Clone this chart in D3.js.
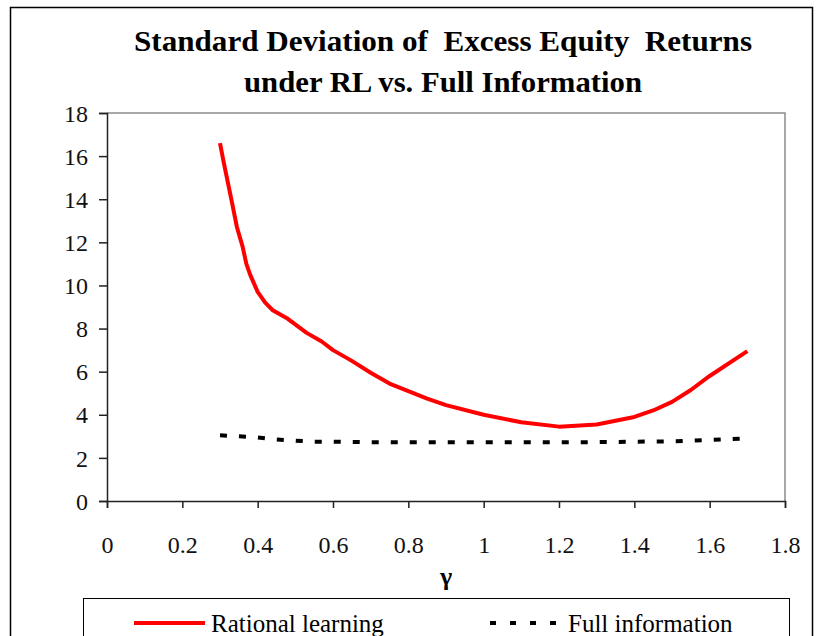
<!DOCTYPE html>
<html>
<head>
<meta charset="utf-8">
<script src="https://cdn.jsdelivr.net/npm/d3@7"></script>
<style>
  body { margin: 0; background: #fff; }
  svg text { font-family: "Liberation Serif", "Times New Roman", "DejaVu Serif", serif; }
</style>
</head>
<body>
<div id="chart-area"></div>
<script>
// data
const gammaRL = [0.30, 0.31, 0.33, 0.345, 0.36, 0.37, 0.38, 0.40, 0.42, 0.44, 0.48, 0.53, 0.57, 0.60, 0.65, 0.70, 0.75, 0.85, 0.90, 1.00, 1.10, 1.20, 1.30, 1.40, 1.45, 1.50, 1.55, 1.60, 1.70]
const rationalLearning = [16.6, 15.7, 14.0, 12.7, 11.8, 11.0, 10.5, 9.7, 9.2, 8.85, 8.45, 7.8, 7.4, 7.0, 6.5, 5.95, 5.45, 4.75, 4.45, 4.0, 3.65, 3.45, 3.55, 3.9, 4.2, 4.6, 5.15, 5.8, 6.95]

const gammaFI = [0.30, 0.35, 0.40, 0.45, 0.50, 0.55, 0.60, 0.70, 0.80, 0.90, 1.00, 1.10, 1.20, 1.30, 1.40, 1.50, 1.60, 1.70]
const fullInformation = [3.05, 3.0, 2.95, 2.85, 2.8, 2.75, 2.75, 2.73, 2.72, 2.72, 2.72, 2.72, 2.72, 2.73, 2.75, 2.77, 2.83, 2.9]

const xTicks = [0, 0.2, 0.4, 0.6, 0.8, 1, 1.2, 1.4, 1.6, 1.8]
const yTicks = [0, 2, 4, 6, 8, 10, 12, 14, 16, 18]

const MARGIN = {LEFT: 107, TOP: 113}
const WIDTH = 678
const HEIGHT = 388

const svg = d3.select("#chart-area").append("svg")
  .attr("width", 820)
  .attr("height", 636)

// outer frame
svg.append("rect")
  .attr("x", 10.5).attr("y", 7.5)
  .attr("width", 802).attr("height", 700)
  .attr("fill", "none").attr("stroke", "#000").attr("stroke-width", 1.5)

// title
svg.append("text")
  .attr("x", 443).attr("y", 51)
  .attr("text-anchor", "middle")
  .attr("font-size", "29px").attr("font-weight", "bold")
  .attr("textLength", 618).attr("lengthAdjust", "spacingAndGlyphs")
  .style("white-space", "pre")
  .text("Standard Deviation of  Excess Equity  Returns")
svg.append("text")
  .attr("x", 443).attr("y", 92)
  .attr("text-anchor", "middle")
  .attr("font-size", "29px").attr("font-weight", "bold")
  .attr("textLength", 398).attr("lengthAdjust", "spacingAndGlyphs")
  .text("under RL vs. Full Information")

const g = svg.append("g")
  .attr("transform", `translate(${MARGIN.LEFT}, ${MARGIN.TOP})`)

const x = d3.scaleLinear().domain([0, 1.8]).range([0, WIDTH])
const y = d3.scaleLinear().domain([0, 18]).range([HEIGHT, 0])

// gray plot frame (top + right)
g.append("path")
  .attr("d", `M0,0H${WIDTH}V${HEIGHT}`)
  .attr("fill", "none").attr("stroke", "#8c8c8c").attr("stroke-width", 1.5)

const xAxisCall = d3.axisBottom(x).tickValues(xTicks).tickSize(7).tickFormat(d => d)
const yAxisCall = d3.axisLeft(y).tickValues(yTicks).tickSize(8).tickFormat(d => d)

const xAxis = g.append("g")
  .attr("transform", `translate(0, ${HEIGHT})`)
  .call(xAxisCall)
xAxis.selectAll("text")
  .attr("y", 35)
  .attr("font-size", "24px")
  .attr("fill", "#111")

const yAxis = g.append("g").call(yAxisCall)
yAxis.selectAll("text")
  .attr("x", -19)
  .attr("dy", "0.34em")
  .attr("font-size", "24px")
  .attr("fill", "#111")

g.selectAll(".domain").attr("stroke", "#222").attr("stroke-width", 1.5)
g.selectAll(".tick line").attr("stroke", "#222").attr("stroke-width", 1.5)

// x-label
g.append("text")
  .attr("x", x(0.9))
  .attr("y", HEIGHT + 84)
  .attr("text-anchor", "middle")
  .attr("font-size", "26px").attr("font-weight", "bold")
  .text("γ")

const line = d3.line()
  .x(d => x(d[0]))
  .y(d => y(d[1]))

g.append("path")
  .datum(gammaFI.map((d, i) => [d, fullInformation[i]]))
  .attr("d", line)
  .attr("fill", "none")
  .attr("stroke", "#000")
  .attr("stroke-width", 4)
  .attr("stroke-dasharray", "7,12")

g.append("path")
  .datum(gammaRL.map((d, i) => [d, rationalLearning[i]]))
  .attr("d", line)
  .attr("fill", "none")
  .attr("stroke", "#ff0000")
  .attr("stroke-width", 4)
  .attr("stroke-linejoin", "round")

// legend
const legend = svg.append("g")
legend.append("rect")
  .attr("x", 83.5).attr("y", 598.5)
  .attr("width", 706).attr("height", 60)
  .attr("fill", "#fff").attr("stroke", "#000").attr("stroke-width", 1)

legend.append("line")
  .attr("x1", 134).attr("x2", 205).attr("y1", 623).attr("y2", 623)
  .attr("stroke", "#ff0000").attr("stroke-width", 4)
legend.append("text")
  .attr("x", 211).attr("y", 632)
  .attr("font-size", "25px")
  .text("Rational learning")

legend.append("line")
  .attr("x1", 490).attr("x2", 566).attr("y1", 623).attr("y2", 623)
  .attr("stroke", "#000").attr("stroke-width", 4)
  .attr("stroke-dasharray", "6,14")
legend.append("text")
  .attr("x", 568).attr("y", 632)
  .attr("font-size", "25px")
  .text("Full information")
</script>
</body>
</html>
